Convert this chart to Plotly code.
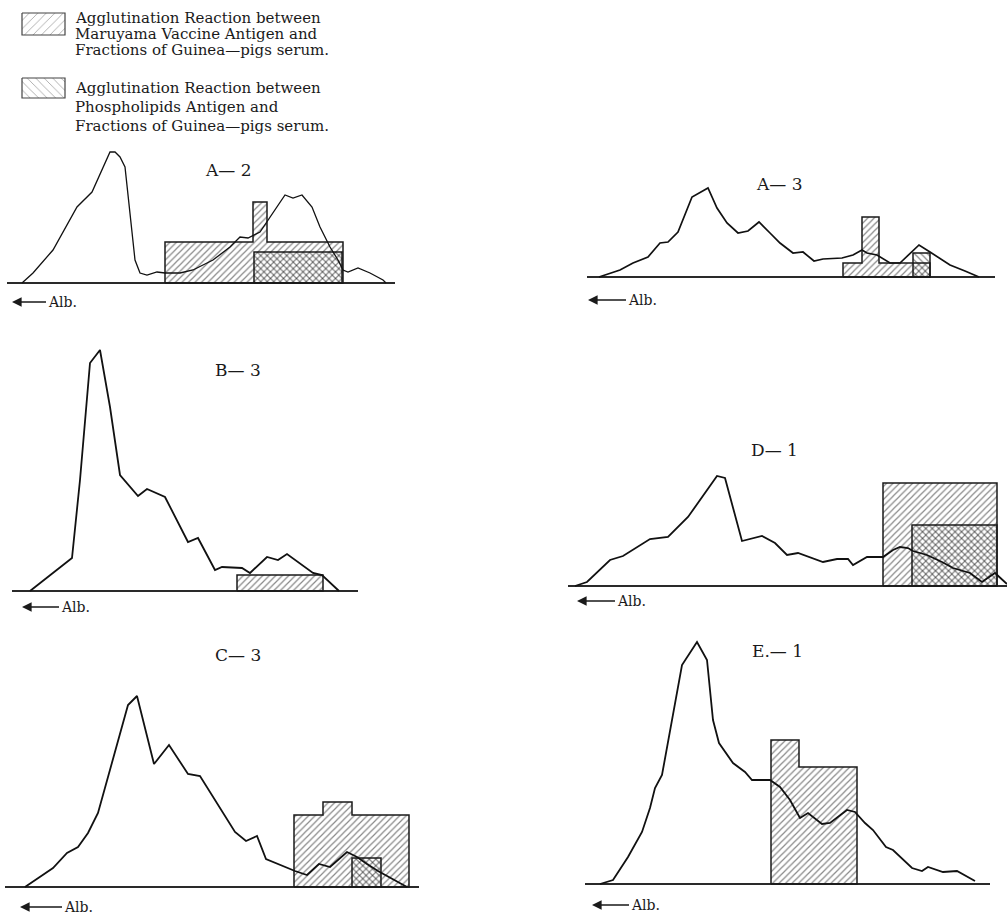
import plotly.graph_objects as go

# ---------------- data (x = position along the strip, y = density above baseline) -------------
panel_names = ["A— 2", "A— 3", "B— 3", "D— 1", "C— 3", "E.— 1"]

A2_x = [15, 26, 46, 70, 85, 96, 103, 108, 113, 118, 123, 128, 133, 140, 150, 158, 173, 186, 206, 223, 233, 241,
        253, 263, 278, 286, 295, 305, 313, 323, 331, 336, 341, 351, 363, 376, 379]
A2_y = [0, 10, 33, 76, 91, 116, 131, 131, 126, 116, 66, 23, 10, 8, 11, 10, 10, 13, 23, 36, 46, 45,
        51, 66, 88, 85, 88, 76, 56, 36, 23, 13, 11, 15, 10, 3, 0]
A2_mar_edges = [158, 246, 260, 336]
A2_mar_h = [41, 81, 41]
A2_pho_edges = [247, 335]
A2_pho_h = [31]

A3_x = [12, 33, 46, 61, 73, 81, 91, 105, 121, 130, 140, 151, 161, 172, 183, 193, 206, 216, 227, 236, 255, 266,
        275, 280, 290, 303, 313, 321, 332, 343, 363, 378, 392]
A3_y = [0, 7, 14, 20, 34, 35, 45, 80, 89, 69, 54, 44, 46, 55, 44, 34, 24, 25, 16, 18, 19, 22,
        27, 24, 22, 14, 14, 22, 32, 25, 12, 6, 0]
A3_mar_edges = [256, 275, 292, 343]
A3_mar_h = [14, 60, 14]
A3_pho_edges = [326, 343]
A3_pho_h = [24]

B3_x = [18, 60, 68, 78, 88, 98, 108, 126, 135, 153, 176, 186, 203, 210, 230, 238, 255, 266, 275, 301, 310, 327]
B3_y = [0, 33, 111, 228, 241, 184, 116, 95, 102, 94, 49, 53, 21, 24, 23, 18, 34, 31, 37, 18, 16, 0]
B3_mar_edges = [225, 311]
B3_mar_h = [16]
B3_pho_edges = []
B3_pho_h = []

D1_x = [7, 19, 42, 55, 82, 100, 120, 149, 157, 174, 194, 207, 219, 230, 255, 269, 280, 285, 299, 315, 325, 332,
        340, 345, 359, 374, 385, 402, 414, 427, 439]
D1_y = [0, 4, 26, 30, 47, 49, 69, 110, 108, 45, 50, 43, 31, 33, 24, 27, 27, 21, 29, 29, 36, 39,
        38, 35, 31, 24, 18, 13, 4, 13, 2]
D1_mar_edges = [315, 429]
D1_mar_h = [103]
D1_pho_edges = [344, 429]
D1_pho_h = [61]

C3_x = [20, 48, 62, 73, 83, 93, 123, 132, 149, 164, 183, 195, 230, 241, 252, 261, 290, 302, 314, 325, 342, 352,
        362, 373, 402]
C3_y = [0, 19, 34, 40, 54, 74, 182, 191, 123, 142, 113, 111, 55, 46, 51, 28, 16, 12, 23, 20, 35, 30,
        23, 16, 0]
C3_mar_edges = [289, 318, 347, 404]
C3_mar_h = [72, 85, 72]
C3_pho_edges = [347, 376]
C3_pho_h = [29]

E1_x = [15, 28, 43, 57, 65, 70, 77, 90, 97, 112, 122, 128, 134, 148, 157, 160, 167, 185, 195, 205, 215, 223,
        237, 245, 262, 270, 280, 288, 301, 308, 327, 337, 343, 358, 372, 387, 390]
E1_y = [0, 4, 27, 52, 76, 96, 109, 179, 219, 242, 224, 164, 141, 121, 114, 112, 104, 104, 97, 84, 66, 71,
        60, 61, 74, 72, 61, 54, 37, 34, 16, 13, 17, 12, 13, 5, 3]
E1_mar_edges = [186, 214, 272]
E1_mar_h = [144, 117]
E1_pho_edges = []
E1_pho_h = []

legend_lines_1 = ["Agglutination Reaction between", "Maruyama Vaccine Antigen and",
                  "Fractions of Guinea—pigs serum."]
legend_lines_2 = ["Agglutination Reaction between", "Phospholipids Antigen and",
                  "Fractions of Guinea—pigs serum."]
alb_label = "Alb."

curves = [(A2_x, A2_y), (A3_x, A3_y), (B3_x, B3_y), (D1_x, D1_y), (C3_x, C3_y), (E1_x, E1_y)]
mar = [(A2_mar_edges, A2_mar_h), (A3_mar_edges, A3_mar_h), (B3_mar_edges, B3_mar_h),
       (D1_mar_edges, D1_mar_h), (C3_mar_edges, C3_mar_h), (E1_mar_edges, E1_mar_h)]
pho = [(A2_pho_edges, A2_pho_h), (A3_pho_edges, A3_pho_h), (B3_pho_edges, B3_pho_h),
       (D1_pho_edges, D1_pho_h), (C3_pho_edges, C3_pho_h), (E1_pho_edges, E1_pho_h)]

# ---------------- layout (pixel placement of each panel) ----------------
W, H = 1008, 917
# left, right, baseline, top (pixels)
boxes = [(7, 395, 283, 145), (587, 995, 277, 180), (12, 358, 591, 345),
         (568, 1007, 586, 470), (5, 419, 887, 690), (585, 990, 884, 635)]
title_pos = [(203, 158), (805, 172), (213, 370), (800, 450), (213, 667), (805, 663)]
alb_pos = [(12, 302, 50), (588, 300, 54), (22, 607, 53), (577, 601, 54), (20, 907, 58), (592, 905, 53)]
line_widths = [1.3, 1.7, 1.8, 1.8, 1.8, 1.8]

SERIF = "DejaVu Serif"
INK = "#1a1a1a"


def px(x):
    return x / W


def py(y):
    return 1 - y / H


def hatch(shape):
    return dict(shape=shape, fgcolor="#111", bgcolor="rgba(0,0,0,0)", size=4.6, solidity=0.26,
                fillmode="overlay")


def outline(edges, heights):
    xs, ys = [edges[0]], [0]
    for i, h in enumerate(heights):
        xs += [edges[i], edges[i + 1]]
        ys += [h, h]
    xs += [edges[-1], edges[0]]
    ys += [0, 0]
    return xs, ys


fig = go.Figure()
layout_axes = {}
annotations = []

for i in range(6):
    n = i + 1
    xa = "x" if n == 1 else f"x{n}"
    ya = "y" if n == 1 else f"y{n}"
    L, R, B, T = boxes[i]
    layout_axes["xaxis" if n == 1 else f"xaxis{n}"] = dict(
        domain=[px(L), px(R)], range=[0, R - L], anchor=ya, visible=False, fixedrange=True)
    layout_axes["yaxis" if n == 1 else f"yaxis{n}"] = dict(
        domain=[py(B + 3), py(T)], range=[-3, B - T], anchor=xa, showgrid=False, showticklabels=False,
        ticks="", showline=False, zeroline=True, zerolinecolor="#2a2a2a", zerolinewidth=1.5, fixedrange=True)

    for (edges, hts), shp in ((mar[i], "/"), (pho[i], "\\")):
        if not hts:
            continue
        centers = [(edges[k] + edges[k + 1]) / 2 for k in range(len(hts))]
        widths = [edges[k + 1] - edges[k] for k in range(len(hts))]
        fig.add_trace(go.Bar(x=centers, y=hts, width=widths, xaxis=xa, yaxis=ya, showlegend=False,
                             marker=dict(color="rgba(0,0,0,0)", line=dict(width=0), pattern=hatch(shp)),
                             hoverinfo="skip"))
        ox, oy = outline(edges, hts)
        fig.add_trace(go.Scatter(x=ox, y=oy, mode="lines", xaxis=xa, yaxis=ya, showlegend=False,
                                 line=dict(color=INK, width=1.5), hoverinfo="skip"))

    cx, cy = curves[i]
    fig.add_trace(go.Scatter(x=cx, y=cy, mode="lines", xaxis=xa, yaxis=ya, showlegend=False,
                             line=dict(color="#111", width=line_widths[i]), hoverinfo="skip"))

    tx, ty = title_pos[i]
    annotations.append(dict(x=px(tx), y=py(ty), xref="paper", yref="paper", text=panel_names[i],
                            showarrow=False, font=dict(family=SERIF, size=17, color=INK)))
    ax_, ay_, off = alb_pos[i]
    annotations.append(dict(x=px(ax_), y=py(ay_), xref="paper", yref="paper", text=alb_label,
                            showarrow=True, ax=off, ay=0, arrowhead=2, arrowsize=1.2, arrowwidth=1.6,
                            arrowcolor=INK, standoff=0, startstandoff=0,
                            font=dict(family=SERIF, size=14, color=INK)))

# ---------------- legend (custom swatches) ----------------
layout_axes["xaxis7"] = dict(domain=[0, px(100)], range=[0, 100], anchor="y7", visible=False, fixedrange=True)
layout_axes["yaxis7"] = dict(domain=[py(120), 1], range=[120, 0], anchor="x7", visible=False, fixedrange=True)
swatches = [((22, 65), (13, 35), "/"), ((22, 65), (78, 98), "\\")]
for (x0, x1), (y0, y1), shp in swatches:
    fig.add_trace(go.Scatter(x=[x0, x1, x1, x0, x0], y=[y0, y0, y1, y1, y0], mode="lines", fill="toself",
                             fillcolor="rgba(0,0,0,0)",
                             fillpattern=dict(shape=shp, fgcolor="#555", bgcolor="rgba(0,0,0,0)", size=6,
                                              solidity=0.15, fillmode="overlay"),
                             line=dict(color="#444", width=1.2), xaxis="x7", yaxis="y7", showlegend=False,
                             hoverinfo="skip"))

for lines, ys in ((legend_lines_1, (18, 34, 50)), (legend_lines_2, (88, 107, 126))):
    for txt, yy in zip(lines, ys):
        annotations.append(dict(x=px(73), y=py(yy), xref="paper", yref="paper", text=txt, showarrow=False,
                                xanchor="left", yanchor="middle", font=dict(family=SERIF, size=15, color=INK)))

fig.update_layout(
    width=W, height=H, margin=dict(l=0, r=0, t=0, b=0), paper_bgcolor="white", plot_bgcolor="rgba(0,0,0,0)",
    barmode="overlay", showlegend=False, hovermode=False, annotations=annotations, **layout_axes)

fig.write_html("out.html", config={"displayModeBar": False},
               post_script="document.body.style.margin='0';document.body.style.overflow='hidden';")
